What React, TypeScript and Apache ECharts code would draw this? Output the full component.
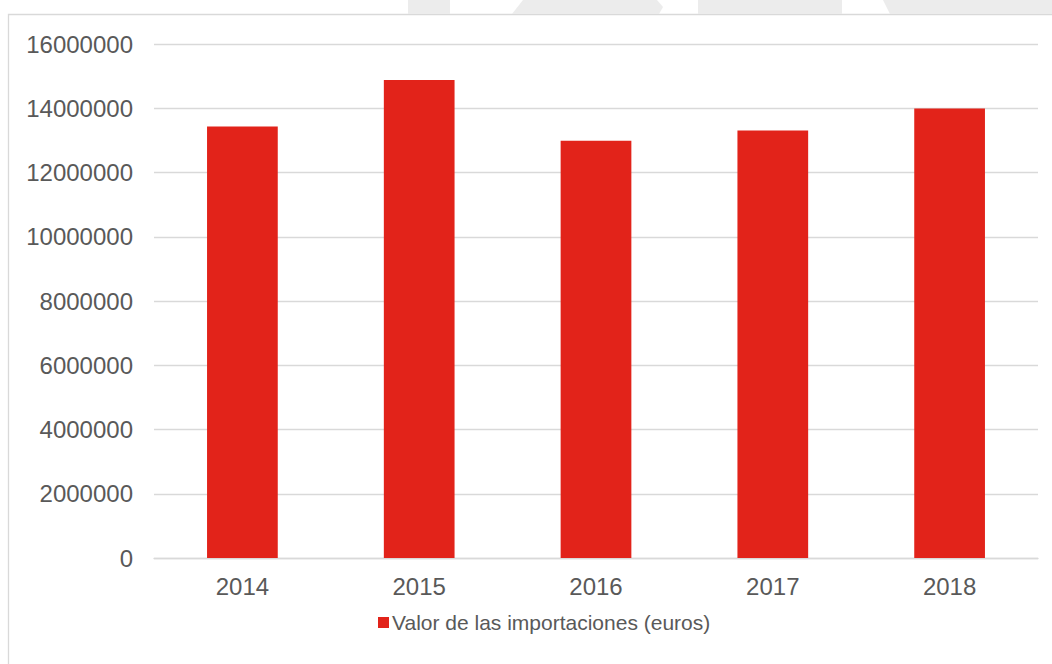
import React, { useEffect, useRef } from "react";
import * as echarts from "echarts";

const years = ["2014", "2015", "2016", "2017", "2018"];
const importValues = [13430000, 14880000, 12990000, 13310000, 13990000];
const seriesName = "Valor de las importaciones (euros)";
const yMin = 0;
const yMax = 16000000;
const yInterval = 2000000;

const FONT = "'Liberation Sans', Arial, sans-serif";
const TEXT = "#595959";
const GRID = "#d9d9d9";
const RED = "#e2231a";
const SHAPE = "#ececec";

export default function App() {
  const ref = useRef<HTMLDivElement>(null);
  useEffect(() => {
    if (!ref.current) return;
    const chart = echarts.init(ref.current, undefined, { renderer: "svg" });
    chart.setOption({
      animation: false,
      backgroundColor: "#ffffff",
      textStyle: { fontFamily: FONT },
      graphic: [
        { type: "rect", shape: { x: 408, y: 0, width: 42, height: 14 }, style: { fill: SHAPE }, silent: true },
        {
          type: "polygon",
          shape: { points: [[512, 14], [523, 0], [657, 0], [663, 7], [659, 14]] },
          style: { fill: SHAPE },
          silent: true,
        },
        { type: "rect", shape: { x: 698, y: 0, width: 144, height: 14 }, style: { fill: SHAPE }, silent: true },
        {
          type: "polygon",
          shape: { points: [[883, 0], [1052, 0], [1052, 14], [890, 14]] },
          style: { fill: SHAPE },
          silent: true,
        },
        {
          type: "rect",
          shape: { x: 8.5, y: 14.5, width: 1100, height: 700 },
          style: { fill: "none", stroke: GRID, lineWidth: 1.3 },
          silent: true,
          z: -1,
        },
      ],
      grid: { left: 154, right: 14, top: 44, bottom: 106, containLabel: false },
      legend: {
        data: [seriesName],
        left: 373,
        top: 607,
        icon: "rect",
        itemWidth: 11,
        itemHeight: 11,
        itemGap: 10,
        textStyle: { color: TEXT, fontSize: 21, fontFamily: FONT, padding: [0, 0, 0, -2] },
      },
      xAxis: {
        type: "category",
        data: years,
        axisLine: { show: true, lineStyle: { color: GRID, width: 1.3 } },
        axisTick: { show: false },
        axisLabel: { color: TEXT, fontSize: 24, fontFamily: FONT, margin: 16 },
      },
      yAxis: {
        type: "value",
        min: yMin,
        max: yMax,
        interval: yInterval,
        axisLine: { show: false },
        axisTick: { show: false },
        splitLine: { lineStyle: { color: GRID, width: 1.3 } },
        axisLabel: {
          color: TEXT,
          fontSize: 24,
          fontFamily: FONT,
          margin: 21,
          formatter: (v: number) => String(v),
        },
      },
      series: [
        {
          name: seriesName,
          type: "bar",
          data: importValues,
          barWidth: "40%",
          itemStyle: { color: RED },
        },
      ],
    });
    return () => chart.dispose();
  }, []);
  return (
    <div
      ref={ref}
      style={{ position: "fixed", left: 0, top: 0, width: 1052, height: 664 }}
    />
  );
}
